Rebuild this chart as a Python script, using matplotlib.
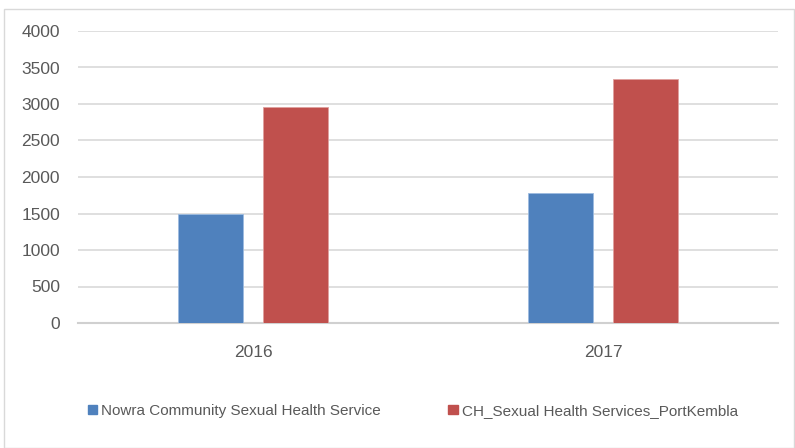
import numpy as np
import matplotlib.pyplot as plt
from matplotlib.patches import Rectangle, Patch

years = ["2016", "2017"]
nowra = [1490, 1780]
port_kembla = [2960, 3340]
series_names = ["Nowra Community Sexual Health Service",
                "CH_Sexual Health Services_PortKembla"]
yticks = [0, 500, 1000, 1500, 2000, 2500, 3000, 3500, 4000]

blue = "#4F81BD"
red = "#C0504D"
grey_text = "#595959"

plt.rcParams['font.family'] = ['Liberation Sans', 'DejaVu Sans']

W, H = 795, 448
fig = plt.figure(figsize=(W / 100, H / 100), dpi=100)

# light frame around the whole chart
fig.patches.append(Rectangle((4 / W, 0), 790 / W, (H - 9) / H,
                             transform=fig.transFigure, fill=False,
                             edgecolor="#d9d9d9", linewidth=1))

ax = fig.add_axes([78 / W, (H - 323) / H, 700 / W, 292 / H])
x = np.arange(len(years))
width = 0.186
offset = 0.121
ax.bar(x - offset, nowra, width, color=blue, edgecolor="#9dbbe0", linewidth=0.6, zorder=3)
ax.bar(x + offset, port_kembla, width, color=red, edgecolor="#e0a09e", linewidth=0.6, zorder=3)

ax.set_xlim(-0.5, len(years) - 0.5)
ax.set_ylim(0, 4000)
ax.set_yticks(yticks)
ax.set_xticks(x)
ax.set_xticklabels(years)
ax.yaxis.grid(True, color="#d9d9d9", linewidth=1.2, zorder=0)
ax.tick_params(axis="both", length=0, labelsize=12.5, colors=grey_text)
ax.tick_params(axis="y", pad=13)
ax.tick_params(axis="x", pad=16)
for side in ["top", "right", "left"]:
    ax.spines[side].set_visible(False)
ax.spines["bottom"].set_color("#d0d0d0")
ax.spines["bottom"].set_linewidth(1.5)

handles = [Patch(color=blue), Patch(color=red)]
fig.legend(handles, series_names, loc="center", bbox_to_anchor=(413 / W, (H - 411) / H),
           ncol=2, frameon=False, fontsize=11, handlelength=0.6, handleheight=0.6,
           handletextpad=0.3, columnspacing=4.4, labelcolor=grey_text)

fig.savefig("out.png", dpi=100)
